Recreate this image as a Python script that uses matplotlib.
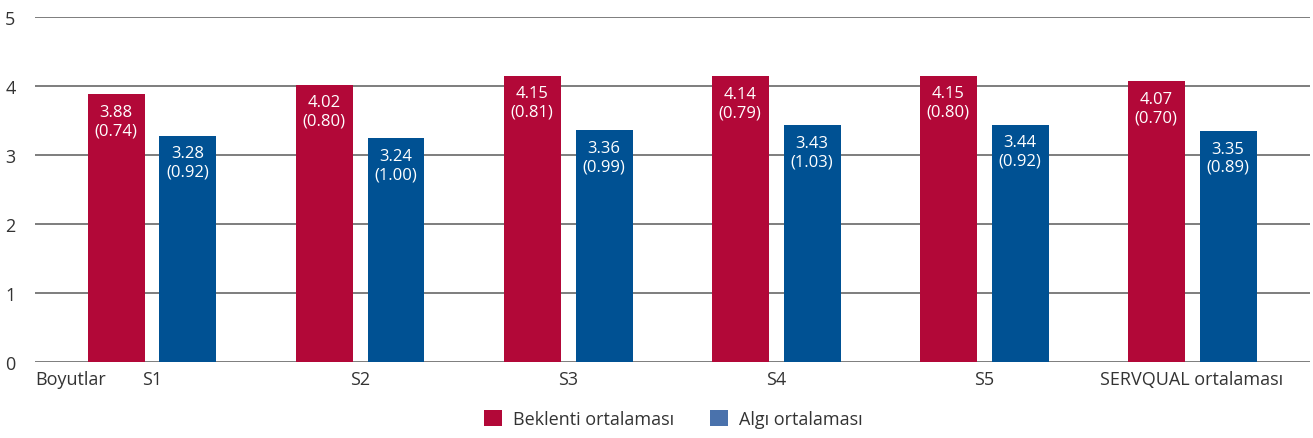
import matplotlib
matplotlib.use("Agg")
import matplotlib.pyplot as plt
import matplotlib.transforms as mtransforms
from matplotlib.patches import Patch
import numpy as np

categories = ["S1", "S2", "S3", "S4", "S5", "SERVQUAL ortalaması"]
expectation = [3.88, 4.02, 4.15, 4.14, 4.15, 4.07]
expectation_sd = [0.74, 0.80, 0.81, 0.79, 0.80, 0.70]
perception = [3.28, 3.24, 3.36, 3.43, 3.44, 3.35]
perception_sd = [0.92, 1.00, 0.99, 1.03, 0.92, 0.89]
series_names = ["Beklenti ortalaması", "Algı ortalaması"]
y_ticks = [0, 1, 2, 3, 4, 5]

RED = "#B20838"
BLUE = "#005193"
BLUE_LEG = "#4A72AC"
TXT = "#333333"

plt.rcParams['font.family'] = ['Open Sans', 'DejaVu Sans']

fig = plt.figure(figsize=(13.13, 4.39), dpi=100)
ax = fig.add_axes([35/1313, 1-363/439, (1310-35)/1313, (363-18)/439])

x = np.arange(len(categories))
w = 0.274
off = 0.173

ax.set_axisbelow(True)
for t in y_ticks:
    ax.axhline(t, color="#5a5a5a", lw=1.1, zorder=0)

ax.bar(x - off, expectation, w, color=RED, zorder=2)
ax.bar(x + off, perception, w, color=BLUE, zorder=2)

for xi, v, sd in zip(x - off, expectation, expectation_sd):
    ax.annotate(f"{v:.2f}\n({sd:.2f})", (xi, v), xytext=(0, -7), textcoords="offset points",
                ha="center", va="top", color="white", fontsize=12, linespacing=1.2, zorder=3)
for xi, v, sd in zip(x + off, perception, perception_sd):
    ax.annotate(f"{v:.2f}\n({sd:.2f})", (xi, v), xytext=(0, -7), textcoords="offset points",
                ha="center", va="top", color="white", fontsize=12, linespacing=1.2, zorder=3)

ax.set_xlim(-0.5625, 5.567)
ax.set_ylim(0, 5)
ax.set_yticks(y_ticks)
ax.set_yticklabels([str(t) for t in y_ticks], fontsize=13, color=TXT)
ax.set_xticks(x)
ax.set_xticklabels(categories, fontsize=13, color=TXT)
ax.tick_params(axis="both", length=0)
ax.tick_params(axis="y", pad=14)
ax.tick_params(axis="x", pad=6)
for s in ax.spines.values():
    s.set_visible(False)

trans = mtransforms.blended_transform_factory(ax.transAxes, ax.transData)
ax.annotate("Boyutlar", xy=(0, 0), xycoords=trans, xytext=(0, -6), textcoords="offset points",
            ha="left", va="top", fontsize=13, color=TXT)

handles = [Patch(facecolor=RED, edgecolor="none"), Patch(facecolor=BLUE_LEG, edgecolor="none")]
leg = fig.legend(handles, series_names, loc="lower center", bbox_to_anchor=(0.513, -0.015), ncol=2,
                 frameon=False, fontsize=13, handlelength=1.0, handleheight=1.0, handletextpad=0.6,
                 columnspacing=2.0)
for t in leg.get_texts():
    t.set_color(TXT)

fig.savefig("out.png", dpi=100)
